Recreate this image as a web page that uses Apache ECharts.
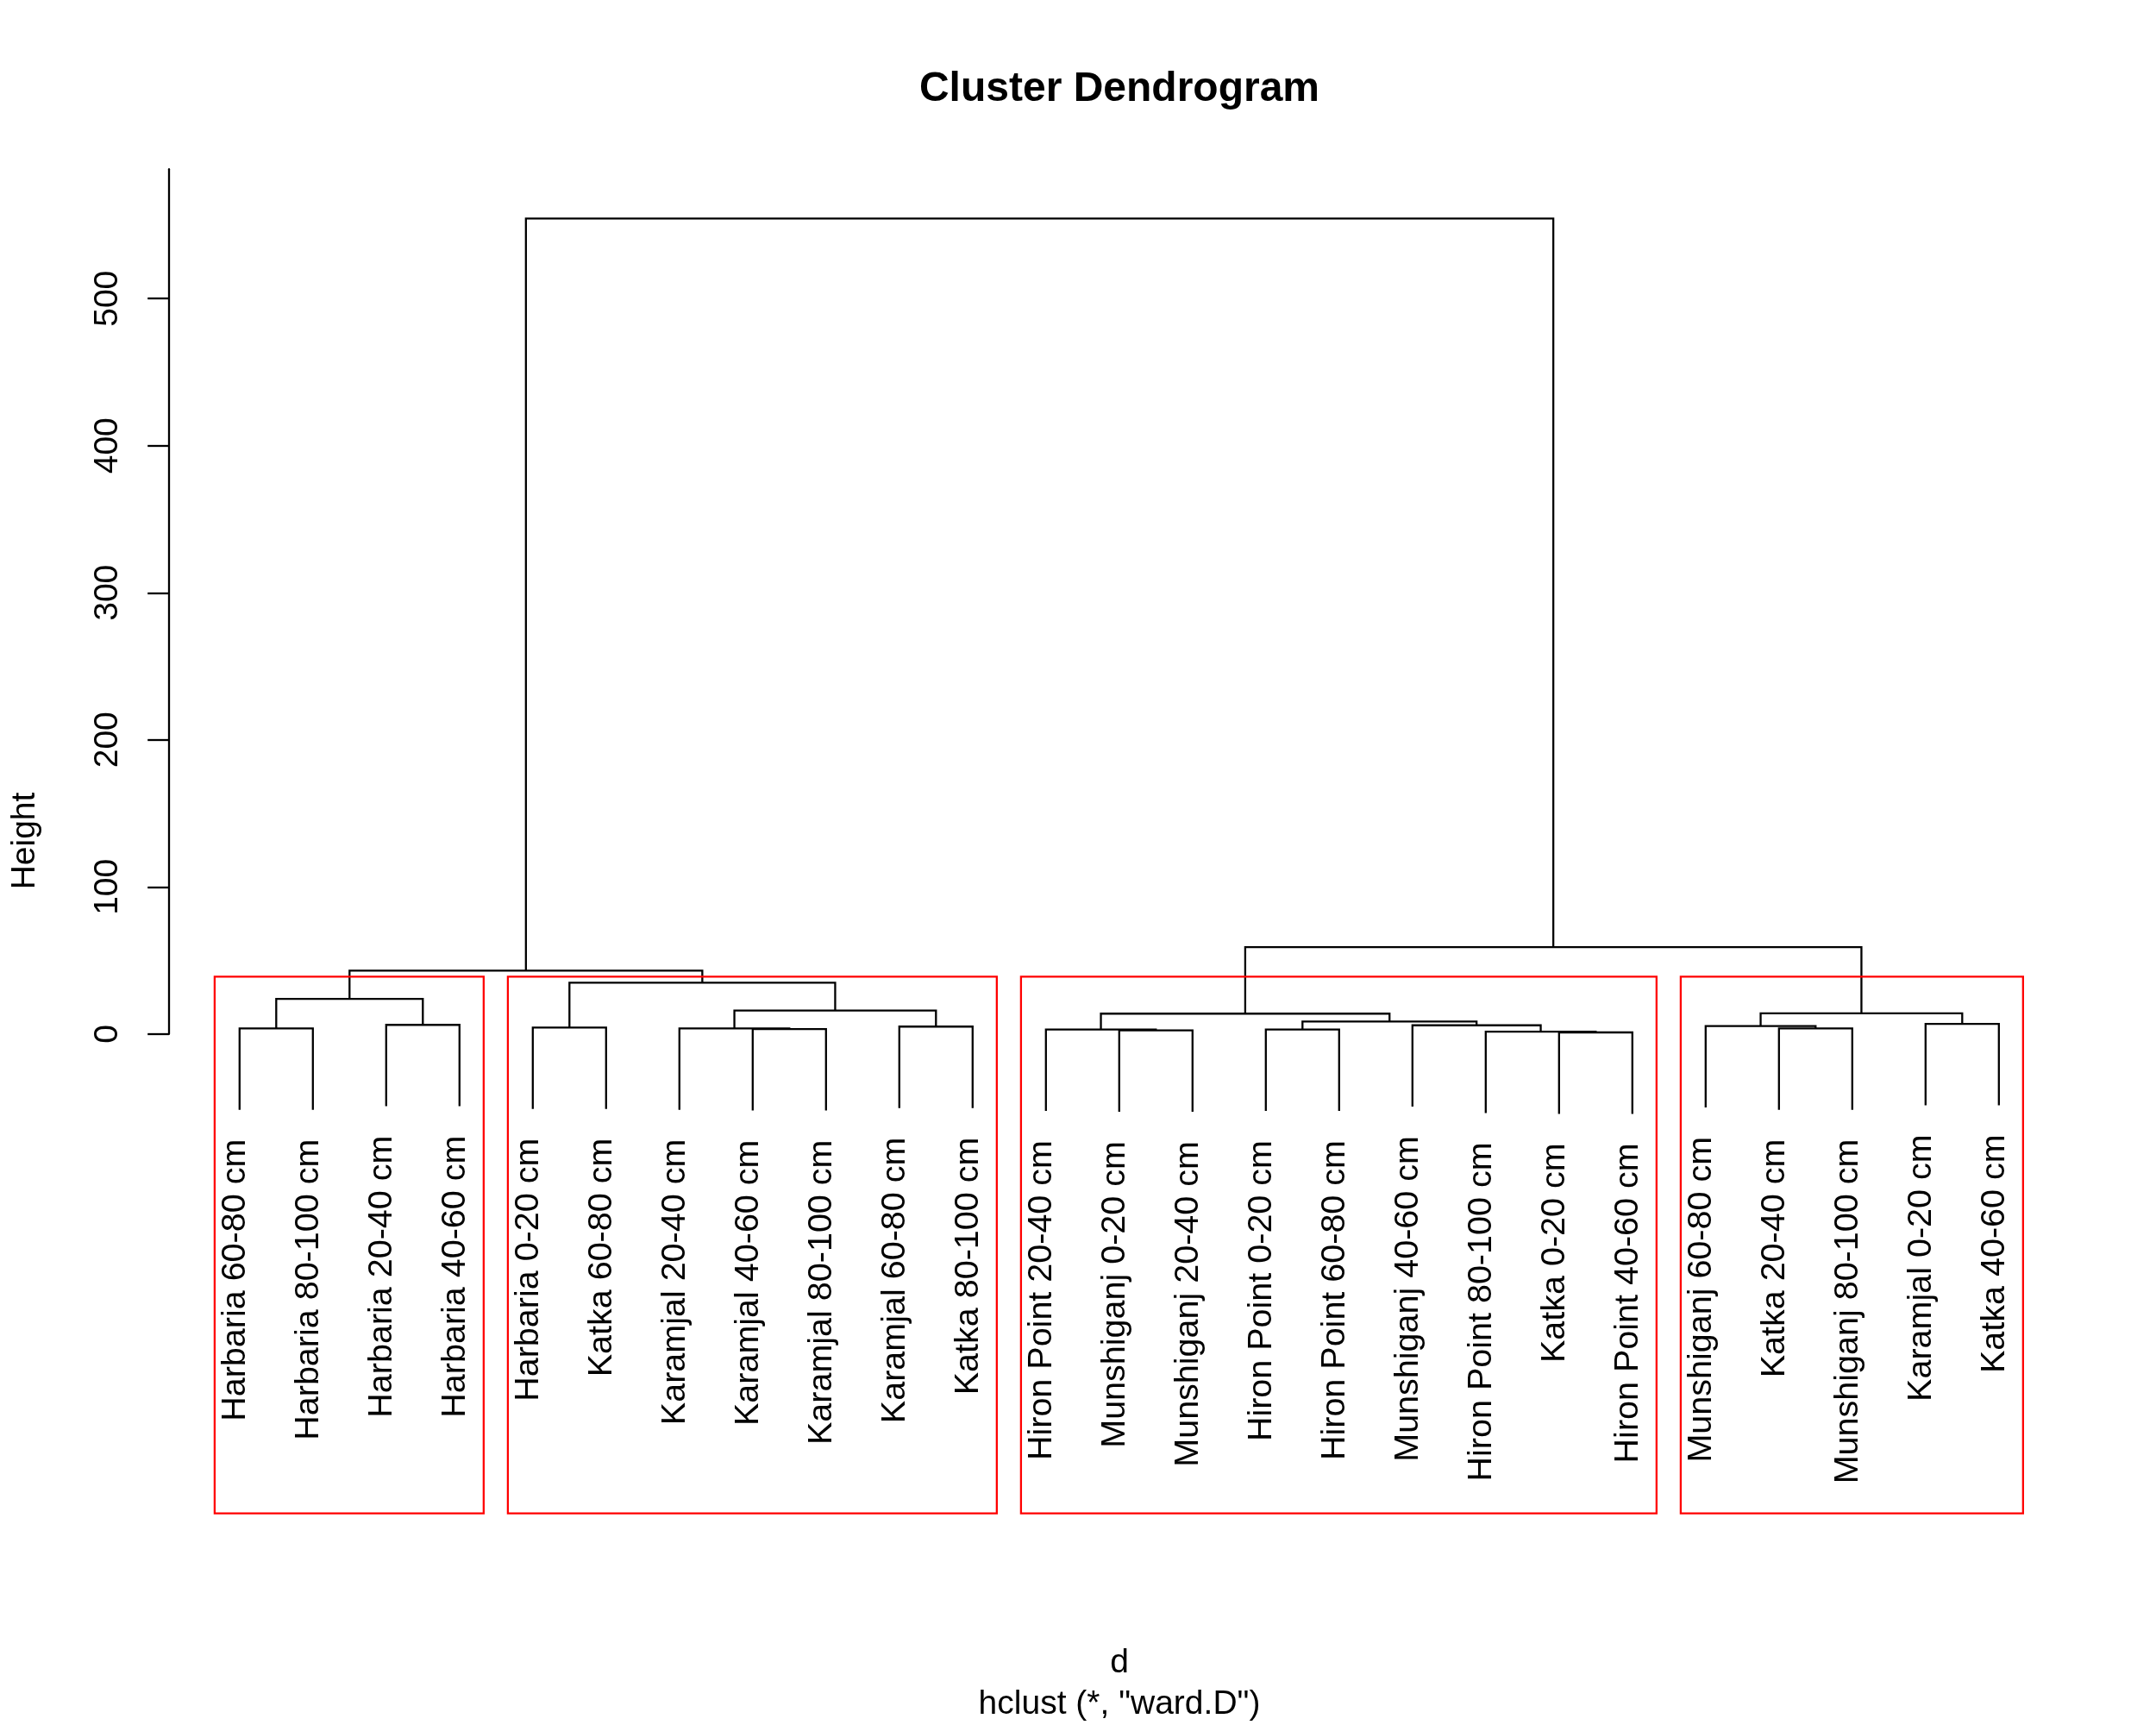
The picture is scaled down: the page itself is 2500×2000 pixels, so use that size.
<!DOCTYPE html>
<html>
<head>
<meta charset="utf-8">
<script src="https://cdn.jsdelivr.net/npm/echarts@6/dist/echarts.min.js"></script>
<style>
html,body{margin:0;padding:0;background:#fff;}
#chart{width:2500px;height:2000px;}
</style>
</head>
<body>
<div id="chart"></div>
<script>
// Leaf labels in dendrogram order (left to right)
const leafLabels = [
  'Harbaria 60-80 cm','Harbaria 80-100 cm','Harbaria 20-40 cm','Harbaria 40-60 cm',
  'Harbaria 0-20 cm','Katka 60-80 cm','Karamjal 20-40 cm','Karamjal 40-60 cm',
  'Karamjal 80-100 cm','Karamjal 60-80 cm','Katka 80-100 cm',
  'Hiron Point 20-40 cm','Munshiganj 0-20 cm','Munshiganj 20-40 cm','Hiron Point 0-20 cm',
  'Hiron Point 60-80 cm','Munshiganj 40-60 cm','Hiron Point 80-100 cm','Katka 0-20 cm',
  'Hiron Point 40-60 cm',
  'Munshiganj 60-80 cm','Katka 20-40 cm','Munshiganj 80-100 cm','Karamjal 0-20 cm','Katka 40-60 cm'
];
// Merge table (R hclust convention): negative = leaf position (1-based), positive = earlier merge
const mergeLeft  = [-19,-18,-13,-12,-15, -8, -7, -1,-22, -5,-10,-21,-17, -3,-24,  5,  4, 12,  7,  8, 10, 20, 17, 22];
const mergeRight = [-20,  1,-14,  3,-16, -9,  6, -2,-23, -6,-11,  9,  2, -4,-25, 13, 16, 15, 11, 14, 19, 21, 18, 23];
const mergeHeight = [1.05,1.6,2.4,3.0,3.0,3.3,3.8,3.8,3.8,4.4,5.0,5.4,5.9,6.2,6.9,8.5,13.8,14.0,15.9,23.8,34.9,43.1,59.0,554.5];
// rect.hclust(k = 4) cluster sizes, left to right
const clusterSizes = [4, 7, 9, 5];
const clusterK = 4;
// y axis tick values
const yTicks = [0, 100, 200, 300, 400, 500];

const FONT = 'Liberation Sans, Arial, Helvetica, sans-serif';
const hang = 0.1 * (Math.max(...mergeHeight) - Math.min(...mergeHeight));
const usrBottom = -326;   // bottom of plotting region (rect.hclust uses par("usr")[3])

// compute merge x positions
const mergeX = [];
function nodeX(id) { return id < 0 ? -id : mergeX[id - 1]; }
function nodeH(id, parentH) { return id < 0 ? parentH - hang : mergeHeight[id - 1]; }
const segData = [];
const leafData = [];
for (let i = 0; i < mergeHeight.length; i++) {
  const h = mergeHeight[i];
  const xl = nodeX(mergeLeft[i]), xr = nodeX(mergeRight[i]);
  mergeX.push((xl + xr) / 2);
  const yl = nodeH(mergeLeft[i], h), yr = nodeH(mergeRight[i], h);
  segData.push([xl, yl, xr, yr, h]);
  if (mergeLeft[i] < 0) leafData.push([xl, yl, -mergeLeft[i] - 1]);
  if (mergeRight[i] < 0) leafData.push([xr, yr, -mergeRight[i] - 1]);
}
// cluster rectangles
const sortedH = mergeHeight.slice().sort((a, b) => b - a);
const rectTop = (sortedH[clusterK - 2] + sortedH[clusterK - 1]) / 2;
const rectData = [];
let cum = 0;
clusterSizes.forEach(s => { rectData.push([cum + 0.66, cum + s + 0.33, rectTop, usrBottom]); cum += s; });

const chart = echarts.init(document.getElementById('chart'), null, {renderer: 'canvas'});
const LW = 2.3;
chart.setOption({
  backgroundColor: '#ffffff',
  animation: false,
  title: [
    {text: 'Cluster Dendrogram', left: 1298, top: 80, textAlign: 'center', padding: 0,
     textStyle: {fontSize: 48, fontWeight: 'bold', color: '#000', fontFamily: FONT}},
    {text: 'd', left: 1298, top: 1909, textAlign: 'center', padding: 0,
     textStyle: {fontSize: 39, fontWeight: 'normal', color: '#000', fontFamily: FONT}},
    {text: 'hclust (*, "ward.D")', left: 1298, top: 1957, textAlign: 'center', padding: 0,
     textStyle: {fontSize: 39, fontWeight: 'normal', color: '#000', fontFamily: FONT}}
  ],
  graphic: [
    {type: 'text', x: 29, y: 975, rotation: Math.PI / 2,
     style: {text: 'Height', fontSize: 39, fontFamily: FONT, fill: '#000', align: 'center', verticalAlign: 'middle'}}
  ],
  grid: {left: 196.2, right: 100.6, top: 196.2, bottom: 801.2, containLabel: false},
  xAxis: {type: 'value', min: 0.04, max: 25.96, show: false},
  yAxis: {
    type: 'value', min: 0, max: 588,
    axisLine: {show: true, lineStyle: {color: '#000', width: LW}},
    axisTick: {show: true, inside: false, length: 25, customValues: yTicks, lineStyle: {color: '#000', width: LW}},
    axisLabel: {show: true, customValues: yTicks, rotate: 90, margin: 51, fontSize: 39, color: '#000', fontFamily: FONT},
    splitLine: {show: false}
  },
  series: [
    {
      type: 'custom', clip: false, z: 2,
      data: segData,
      encode: {x: [0, 2], y: [1, 3, 4]},
      renderItem: function (params, api) {
        const xl = api.value(0), yl = api.value(1), xr = api.value(2), yr = api.value(3), h = api.value(4);
        const p1 = api.coord([xl, yl]), p2 = api.coord([xl, h]), p3 = api.coord([xr, h]), p4 = api.coord([xr, yr]);
        return {type: 'polyline', shape: {points: [p1, p2, p3, p4]},
                style: {stroke: '#000', lineWidth: LW, fill: null}};
      }
    },
    {
      type: 'custom', clip: false, z: 2,
      data: leafData,
      encode: {x: 0, y: 1},
      renderItem: function (params, api) {
        const p = api.coord([api.value(0), api.value(1)]);
        return {type: 'text', x: p[0] - 5, y: p[1] + 34, rotation: Math.PI / 2,
                style: {text: leafLabels[api.value(2)], fontSize: 39.5, fontFamily: FONT, fill: '#000',
                        align: 'right', verticalAlign: 'middle'}};
      }
    },
    {
      type: 'custom', clip: false, z: 3,
      data: rectData,
      encode: {x: [0, 1], y: [2, 3]},
      renderItem: function (params, api) {
        const a = api.coord([api.value(0), api.value(2)]);
        const b = api.coord([api.value(1), api.value(3)]);
        return {type: 'rect', shape: {x: a[0], y: a[1], width: b[0] - a[0], height: b[1] - a[1]},
                style: {stroke: '#ff0000', lineWidth: LW, fill: 'none'}};
      }
    }
  ]
});
</script>
</body>
</html>
